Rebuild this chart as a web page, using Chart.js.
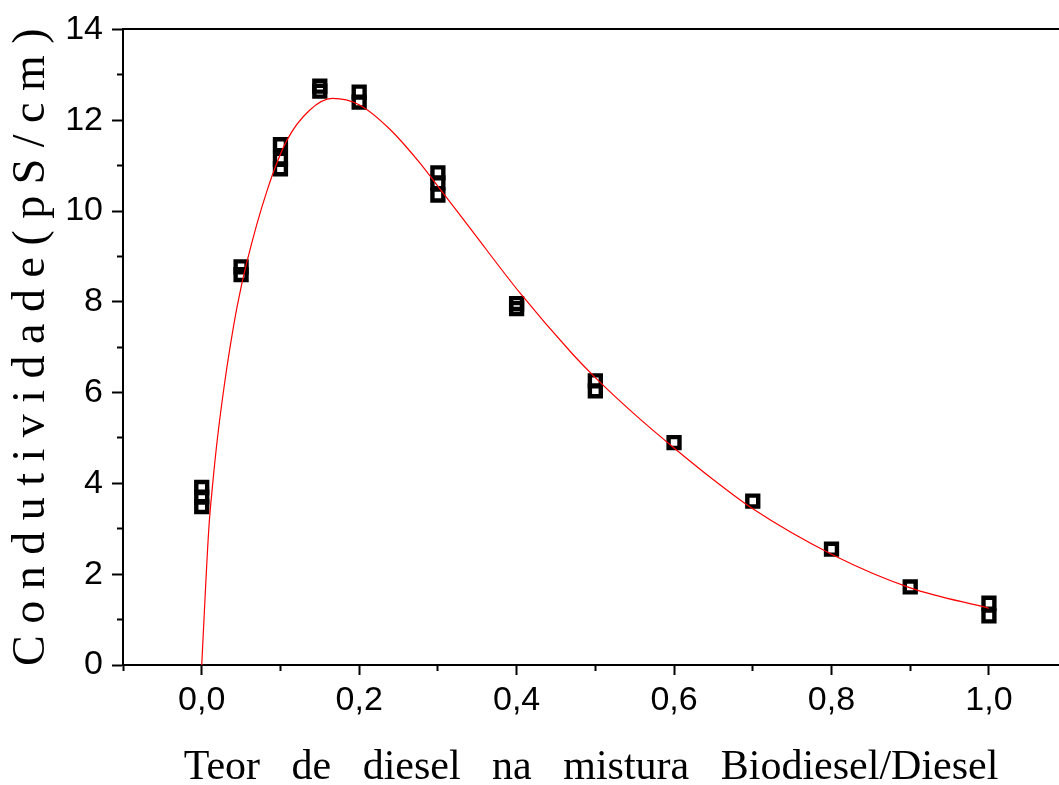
<!DOCTYPE html>
<html>
<head>
<meta charset="utf-8">
<script src="https://cdn.jsdelivr.net/npm/chart.js@4/dist/chart.umd.min.js"></script>
<style>
  body { margin: 0; background: #fff; }
</style>
</head>
<body>
<canvas id="chart" width="1059" height="785"></canvas>
<script>
// measured samples (replicates at each diesel fraction)
const sampleX = [0, 0, 0, 0.05, 0.05, 0.1, 0.1, 0.1, 0.15, 0.15, 0.2, 0.2,
                 0.3, 0.3, 0.3, 0.4, 0.4, 0.5, 0.5, 0.6, 0.7, 0.8, 0.9, 1.0, 1.0];
const sampleY = [3.91, 3.7, 3.49, 8.77, 8.6, 11.46, 11.14, 10.93, 12.75, 12.64, 12.62, 12.4,
                 10.84, 10.62, 10.35, 7.96, 7.85, 6.26, 6.04, 4.9, 3.61, 2.55, 1.72, 1.36, 1.08];

// fitted curve
const fitX = [0, 0.009, 0.014, 0.02, 0.029, 0.036, 0.045, 0.057, 0.083, 0.108, 0.137, 0.166, 0.2,
              0.239, 0.277, 0.302, 0.344, 0.404, 0.471, 0.5, 0.55, 0.6, 0.65, 0.7, 0.8, 0.9, 1.0];
const fitY = [0, 3.0, 4.0, 5.0, 6.2, 7.0, 7.9, 8.85, 10.45, 11.55, 12.22, 12.48, 12.34,
              11.8, 11.06, 10.5, 9.55, 8.2, 6.85, 6.33, 5.52, 4.78, 4.08, 3.44, 2.44, 1.7, 1.25];

const xMajorTicks = [0, 0.2, 0.4, 0.6, 0.8, 1.0];
const xMinorTicks = [-0.1, 0.1, 0.3, 0.5, 0.7, 0.9];
const yMajorTicks = [0, 2, 4, 6, 8, 10, 12, 14];
const yMinorTicks = [1, 3, 5, 7, 9, 11, 13];

const toPoints = (xs, ys) => xs.map((x, i) => ({ x: x, y: ys[i] }));
const setTicks = list => scale => { scale.ticks = list.map(v => ({ value: v })); };
const fixSize = (prop, size) => scale => { scale[prop] = size; };

const xRange = { min: -0.1, max: 1.089 };
const yRange = { min: 0, max: 14 };

const minorAxis = (position, list, range) => ({
  type: 'linear',
  position: position,
  weight: -1,
  min: range.min,
  max: range.max,
  afterBuildTicks: setTicks(list),
  afterFit: fixSize(position === 'left' ? 'width' : 'height', 0),
  border: { display: false },
  grid: { drawOnChartArea: false, drawTicks: true, tickLength: 6, tickWidth: 2, tickColor: '#000' },
  ticks: { callback: () => '' }
});

new Chart(document.getElementById('chart'), {
  type: 'scatter',
  data: {
    datasets: [
      {
        type: 'line',
        data: toPoints(fitX, fitY),
        borderColor: '#ff0000',
        borderWidth: 1.2,
        pointRadius: 0,
        fill: false,
        cubicInterpolationMode: 'monotone'
      },
      {
        data: toPoints(sampleX, sampleY),
        pointStyle: 'rect',
        pointRadius: 7.7,
        borderWidth: 4.4,
        borderColor: '#000',
        backgroundColor: 'rgba(0,0,0,0)'
      }
    ]
  },
  options: {
    responsive: false,
    animation: false,
    layout: { autoPadding: false, padding: { top: 23, right: 0, left: 0, bottom: 0 } },
    plugins: { legend: { display: false }, tooltip: { enabled: false } },
    scales: {
      x: {
        type: 'linear',
        position: 'bottom',
        min: xRange.min,
        max: xRange.max,
        afterBuildTicks: setTicks(xMajorTicks),
        afterFit: fixSize('height', 120),
        border: { display: true, color: '#000', width: 2 },
        grid: { drawOnChartArea: false, drawTicks: true, tickLength: 10, tickWidth: 2, tickColor: '#000' },
        ticks: {
          color: '#000',
          padding: 5,
          maxRotation: 0,
          font: { family: '"Liberation Sans", Arial, sans-serif', size: 34 },
          callback: v => v.toFixed(1).replace('.', ',')
        },
        title: {
          display: true,
          text: 'Teor   de   diesel   na   mistura   Biodiesel/Diesel',
          color: '#000',
          padding: 0,
          font: { family: '"Liberation Serif", "Times New Roman", serif', size: 42, lineHeight: 0.82 }
        }
      },
      x2: minorAxis('bottom', xMinorTicks, xRange),
      xTop: {
        type: 'linear',
        position: 'top',
        min: xRange.min,
        max: xRange.max,
        afterFit: fixSize('height', 0),
        border: { display: true, color: '#000', width: 2 },
        grid: { drawOnChartArea: false, drawTicks: false },
        ticks: { display: false }
      },
      y: {
        type: 'linear',
        position: 'left',
        min: yRange.min,
        max: yRange.max,
        afterBuildTicks: setTicks(yMajorTicks),
        afterFit: fixSize('width', 123),
        border: { display: true, color: '#000', width: 2 },
        grid: { drawOnChartArea: false, drawTicks: true, tickLength: 11, tickWidth: 2, tickColor: '#000' },
        ticks: {
          color: '#000',
          padding: 9,
          font: { family: '"Liberation Sans", Arial, sans-serif', size: 34 },
          callback: v => String(v)
        },
        title: {
          display: true,
          text: 'C o n d u t i v i d a d e ( p S / c m )',
          color: '#000',
          padding: { top: 4, bottom: 0 },
          font: { family: '"Liberation Serif", "Times New Roman", serif', size: 46, lineHeight: 1.2 }
        }
      },
      y2: minorAxis('left', yMinorTicks, yRange)
    }
  }
});
</script>
</body>
</html>
